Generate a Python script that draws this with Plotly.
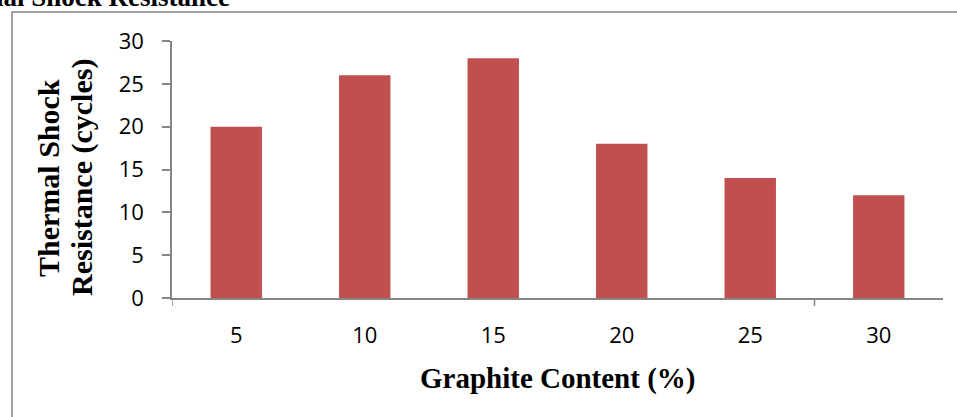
import plotly.graph_objects as go

categories = ["5", "10", "15", "20", "25", "30"]
values = [20, 26, 28, 18, 14, 12]
y_ticks = [0, 5, 10, 15, 20, 25, 30]

W, H = 957, 417
L, R, T, B = 172, 14, 41, 119
pw, ph = W - L - R, H - T - B

def px_x(p):
    return (p - L) / pw

def px_y(p):
    return (H - B - p) / ph

gray = "#868686"
tickfont = dict(family="Open Sans", size=22, color="black")
fig = go.Figure()
fig.add_trace(go.Bar(x=list(range(len(categories))), y=values,
                     marker=dict(color="#C0504D", line=dict(width=0)), width=0.4))

fig.update_layout(
    width=W, height=H, margin=dict(l=L, r=R, t=T, b=B),
    paper_bgcolor="white", plot_bgcolor="white", showlegend=False,
    xaxis=dict(range=[-0.5, 5.5], tickvals=list(range(len(categories))), ticktext=categories,
               showgrid=False, zeroline=False, showline=True, linecolor=gray, linewidth=1.5,
               ticks="", ticklabelstandoff=17, tickfont=tickfont),
    yaxis=dict(range=[0, 30], tickvals=y_ticks, showgrid=False, zeroline=False,
               showline=True, linecolor=gray, linewidth=1.5,
               ticks="outside", ticklen=8, tickcolor=gray, tickwidth=1.5, ticklabelstandoff=14,
               tickfont=tickfont),
)

# border
fig.add_shape(type="rect", xref="paper", yref="paper",
              x0=px_x(12), x1=px_x(W + 20), y0=px_y(H + 20), y1=px_y(12),
              line=dict(color=gray, width=1.5), fillcolor="rgba(0,0,0,0)", layer="below")
# category boundary ticks
for xv in [-0.5, 4.5]:
    fig.add_shape(type="line", xref="x", yref="paper", x0=xv, x1=xv,
                  y0=0, y1=px_y(H - B + 8), line=dict(color=gray, width=1.5))

fig.add_annotation(text="<b>Graphite Content (%)</b>", xref="paper", yref="paper",
                   x=px_x(557), y=px_y(378), xanchor="center", yanchor="middle", showarrow=False,
                   font=dict(family="Liberation Serif", size=29, color="black"))
ytfont = dict(family="Liberation Serif", size=30, color="black")
fig.add_annotation(text="<b>Thermal Shock</b>", xref="paper", yref="paper",
                   x=px_x(48), y=px_y(178), xanchor="center", yanchor="middle", showarrow=False,
                   textangle=-90, font=ytfont)
fig.add_annotation(text="<b>Resistance (cycles)</b>", xref="paper", yref="paper",
                   x=px_x(82), y=px_y(178), xanchor="center", yanchor="middle", showarrow=False,
                   textangle=-90, font=ytfont)
fig.add_annotation(text="<b>Thermal Shock Resistance</b>", xref="paper", yref="paper",
                   x=px_x(232), y=px_y(14), xanchor="right", yanchor="bottom", showarrow=False,
                   font=dict(family="Liberation Serif", size=27, color="black"))

fig.write_html("out.html", config={"displayModeBar": False},
               post_script="document.body.style.margin='0';document.body.style.padding='0';")
